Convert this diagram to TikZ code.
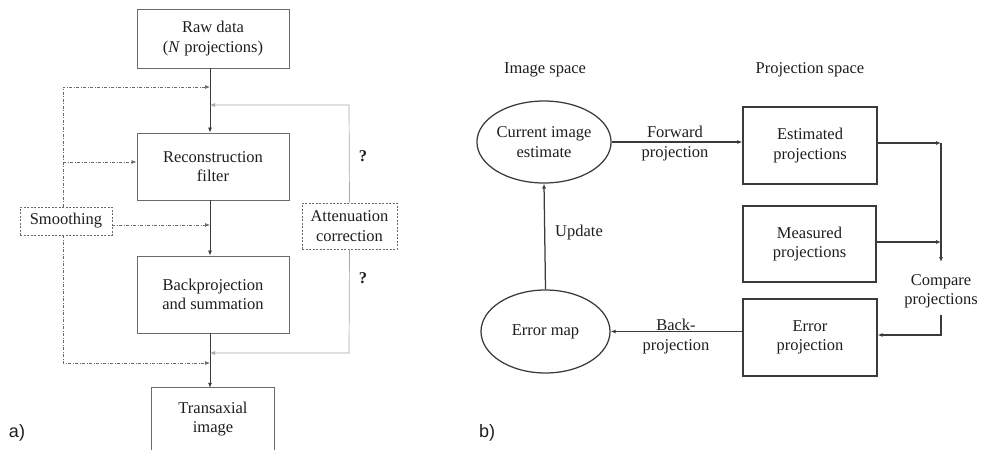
\documentclass[tikz,border=0pt]{standalone}
\usepackage{fontspec}
\setmainfont{Liberation Serif}
\newfontfamily\labfont{Liberation Sans}
\usetikzlibrary{shapes.geometric,arrows.meta}
\definecolor{ink}{HTML}{1E1E1E}
\definecolor{linegray}{HTML}{3A3A3A}
\definecolor{boxgray}{HTML}{6A6A6A}
\definecolor{litegray}{HTML}{A8A8A8}
\tikzset{
  txt/.style={font=\fontsize{16.5}{19.5}\selectfont, text=ink, align=center, inner sep=0pt},
  abox/.style={draw=boxgray, line width=0.9pt, txt},
  bbox/.style={draw=linegray, line width=1.25pt, txt},
  dbox/.style={draw=boxgray, dashed, dash pattern=on 2pt off 1.5pt, line width=0.8pt, txt},
  ell/.style={ellipse, draw=linegray, line width=1.25pt, txt},
  tip/.style={-{Latex[length=5pt,width=4pt]}},
  mainln/.style={draw=linegray, line width=0.8pt, tip},
  smln/.style={draw=boxgray, line width=0.7pt, dash pattern=on 3pt off 1.5pt on 1pt off 1.5pt},
  atln/.style={draw=litegray, line width=0.7pt},
  rln/.style={draw=linegray, line width=1.25pt},
}
\begin{document}
\begin{tikzpicture}[x=1pt,y=-1pt]
\useasboundingbox (0,0) rectangle (990,450);
% ---------- (a) ----------
\node[abox, minimum width=152pt, minimum height=59pt] (raw) at (213,38.5) {Raw data\\(\textit{N} projections)};
\node[abox, minimum width=152pt, minimum height=67pt] (rec) at (213,166.5) {Reconstruction\\filter};
\node[abox, minimum width=152pt, minimum height=77pt] (bp) at (213,294.5) {Backprojection\\and summation};
\node[txt, minimum width=122pt, minimum height=62pt] (tr) at (213,419) {Transaxial\\image};
\draw[boxgray, line width=0.9pt] (tr.south west) -- (tr.north west) -- (tr.north east) -- (tr.south east);
\node[dbox, minimum width=92pt, minimum height=28pt] (sm) at (66,221) {Smoothing};
\node[dbox, minimum width=95pt, minimum height=46pt] (at) at (349.5,226) {Attenuation\\correction};
\node[txt, font=\fontsize{16.5}{19.5}\selectfont\bfseries] (q1) at (363,156) {?};
\node[txt, font=\fontsize{16.5}{19.5}\selectfont\bfseries] (q2) at (363,278) {?};
\node[font=\fontsize{18}{20}\selectfont\labfont, text=ink] (la) at (17,433) {a)};
% junction coordinates
\coordinate (j1) at (210,87);
\coordinate (j2) at (210,105);
\coordinate (j3) at (210,225);
\coordinate (j4) at (210,353);
\coordinate (j5) at (210,363);
% main flow
\draw[mainln] (raw.south -| 210,0) -- (rec.north -| 210,0);
\draw[mainln] (rec.south -| 210,0) -- (bp.north -| 210,0);
\draw[mainln] (bp.south -| 210,0) -- (tr.north -| 210,0);
% smoothing
\draw[smln, tip] (sm.north -| 63,0) -- (63,87) -- (j1);
\draw[smln, tip] (63,162) -- (rec.west |- 0,162);
\draw[smln, tip] (sm.east |- j3) -- (j3);
\draw[smln, tip] (sm.south -| 63,0) -- (63,363) -- (j5);
% attenuation
\draw[atln, tip] (at.north) -- (349,105) -- (j2);
\draw[atln, tip] (at.south) -- (349,353) -- (j4);
% ---------- (b) ----------
\node[txt] (is) at (545,70) {Image space};
\node[txt] (ps) at (810,70) {Projection space};
\node[ell, minimum width=130pt, minimum height=82pt] (cur) at (544,142) {Current image\\estimate};
\node[ell, minimum width=129pt, minimum height=83pt] (err) at (545.5,331.5) {Error map};
\node[bbox, minimum width=134pt, minimum height=77pt] (est) at (810,145.5) {Estimated\\projections};
\node[bbox, minimum width=133pt, minimum height=76pt] (mea) at (809.5,244) {Measured\\projections};
\node[bbox, minimum width=134pt, minimum height=77pt] (ep) at (810,337.5) {Error\\projection};
\node[txt] (cmp) at (941,291.5) {Compare\\projections};
\node[txt] (fw) at (675,143.5) {Forward\\projection};
\node[txt] (bk) at (676,336.5) {Back-\\projection};
\node[txt] (up) at (579,233) {Update};
\node[font=\fontsize{18}{20}\selectfont\labfont, text=ink] (lb) at (487,433) {b)};
\coordinate (c1) at (941,143);
\coordinate (c2) at (941,242);
\coordinate (c3) at (941,262);
\coordinate (c4) at (941,315);
\coordinate (c5) at (941,335);
\draw[rln, tip] (cur.east) -- (est.west |- cur.east);
\draw[rln, tip] (est.east |- c1) -- (c1);
\draw[rln, tip] (mea.east |- c2) -- (c2);
\draw[rln, tip] (c1) -- (c3);
\draw[rln, tip] (c4) -- (c5) -- (ep.east |- c5);
\draw[rln, tip] (ep.west |- err.east) -- (err.east);
\draw[rln, tip] (err.north) -- (cur.south);
\end{tikzpicture}
\end{document}
